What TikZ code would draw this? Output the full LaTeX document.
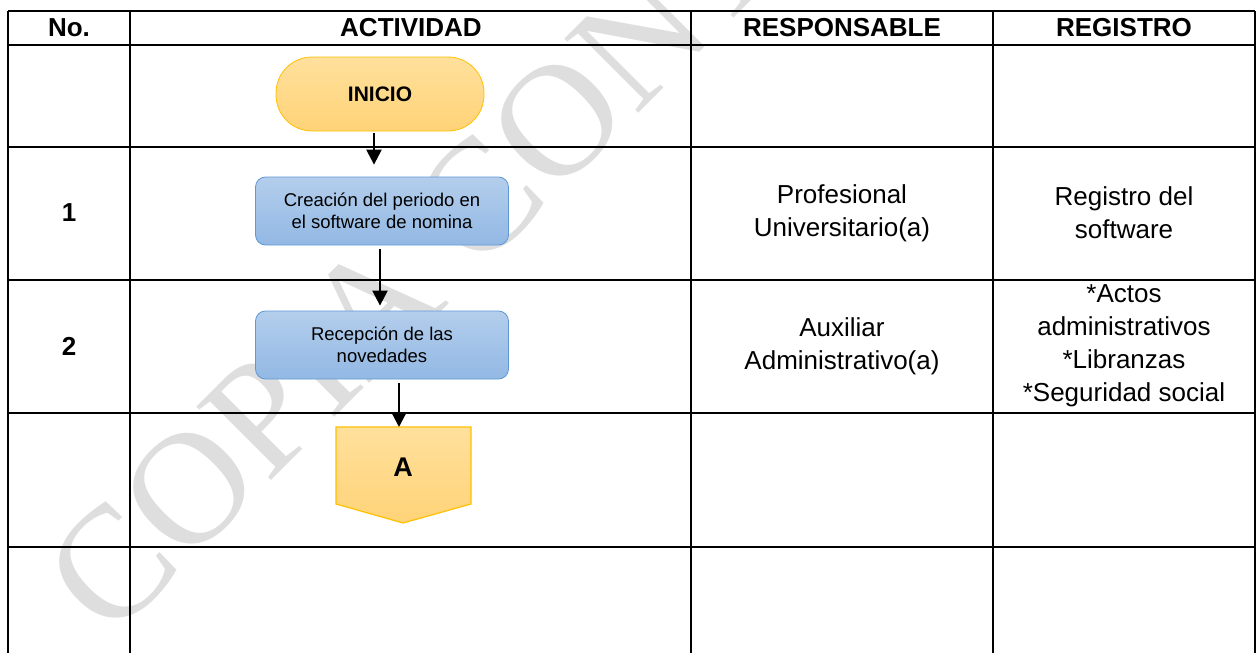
\documentclass[tikz,border=0pt]{standalone}
\usepackage{fontspec}
\setmainfont{Liberation Sans}
\newfontfamily\markfont{Liberation Serif}
\usetikzlibrary{arrows.meta}
\definecolor{CInicioTop}{RGB}{255,224,156}
\definecolor{CInicioBot}{RGB}{255,211,120}
\definecolor{CInicioLine}{RGB}{255,192,0}
\definecolor{CBoxTop}{RGB}{180,206,236}
\definecolor{CBoxBot}{RGB}{146,184,228}
\definecolor{CBoxLine}{RGB}{96,152,212}
\definecolor{CMark}{RGB}{222,222,222}

\begin{document}
\begin{tikzpicture}[x=0.5pt, y=-0.5pt,
    grid/.style={line width=1.2pt},
    flow/.style={-{Triangle[length=7.5pt, width=7.5pt]}, line width=1.2pt},
    head/.style={font=\fontsize{13}{16}\selectfont\bfseries},
    cell/.style={align=center, font=\fontsize{13}{16.5}\selectfont},
    terminal/.style={draw=CInicioLine, top color=CInicioTop, bottom color=CInicioBot,
        rounded corners=18pt, minimum width=104pt, minimum height=37pt,
        font=\fontsize{10.5}{12}\selectfont\bfseries},
    process/.style={draw=CBoxLine, top color=CBoxTop, bottom color=CBoxBot,
        rounded corners=5pt, minimum width=126.5pt, minimum height=34pt,
        align=center, font=\fontsize{9.25}{11}\selectfont}]
    \useasboundingbox (0, 0) rectangle (1259, 653);

    % watermark
    \begin{scope}
        \clip (0, 0) rectangle (1259, 653);
        \node [anchor=base west, rotate=45, inner sep=0pt, text=CMark,
            font=\markfont\fontsize{80}{80}\selectfont] (mark) at (110, 642) {COPIA CONTROLADA};
    \end{scope}

    % table
    \foreach \y in {11, 45, 147, 280, 413, 547}
        \draw [grid] (8, \y) -- (1255, \y);
    \foreach \x in {8, 130, 691, 993, 1255}
        \draw [grid] (\x, 11) -- (\x, 653);

    \node [head] (hNo)   at (69, 28)   {No.};
    \node [head] (hAct)  at (411, 28)  {ACTIVIDAD};
    \node [head] (hResp) at (842, 28)  {RESPONSABLE};
    \node [head] (hReg)  at (1124, 28) {REGISTRO};

    \node [head] (n1) at (69, 213) {1};
    \node [head] (n2) at (69, 346) {2};

    \node [cell] (resp1) at (842, 213)  {Profesional\\Universitario(a)};
    \node [cell] (reg1)  at (1124, 213) {Registro del\\software};
    \node [cell] (resp2) at (842, 346)  {Auxiliar\\Administrativo(a)};
    \node [cell] (reg2)  at (1124, 346) {*Actos\\administrativos\\*Libranzas\\*Seguridad social};

    % flow
    \node [terminal] (inicio) at (380, 94)  {INICIO};
    \node [process]  (paso1)  at (382, 211) {Creación del periodo en\\el software de nomina};
    \node [process]  (paso2)  at (382, 345) {Recepción de las\\novedades};

    \draw [draw=CInicioLine, line width=0.6pt, top color=CInicioTop, bottom color=CInicioBot]
        (336, 427) -- (471, 427) -- (471, 504) -- (403, 523) -- (336, 504) -- cycle;
    \coordinate (conTop) at (399, 427);
    \node [font=\fontsize{13.5}{14}\selectfont\bfseries] (conA) at (403, 467) {A};

    \draw [flow] ([xshift=-3pt, yshift=-1pt]inicio.south) -- ([xshift=-4pt, yshift=6pt]paso1.north);
    \draw [flow] ([xshift=-1pt, yshift=-2pt]paso1.south) -- ([xshift=-1pt, yshift=2.5pt]paso2.north);
    \draw [flow] ([xshift=8.5pt, yshift=-2pt]paso2.south) -- (conTop);
\end{tikzpicture}
\end{document}
